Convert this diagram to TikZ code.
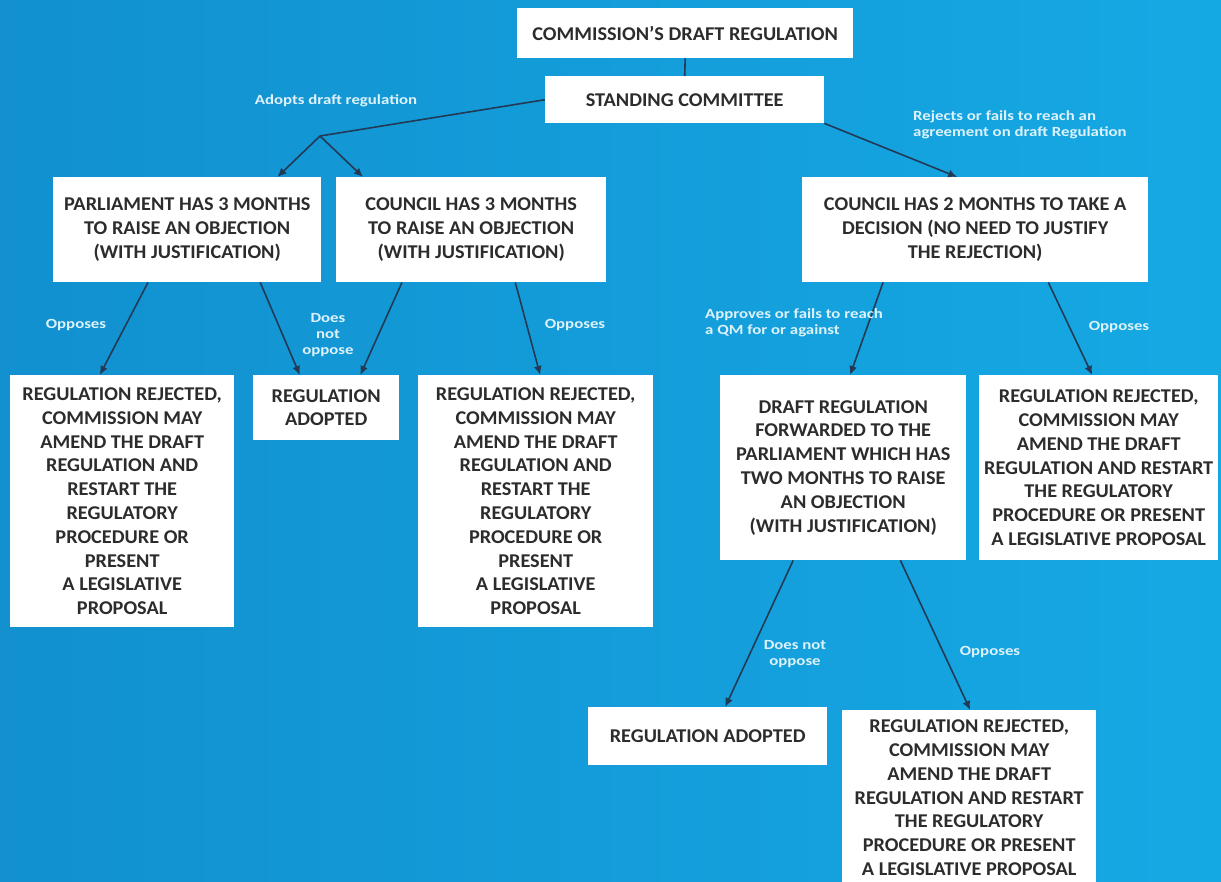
\documentclass[tikz,border=0pt]{standalone}
\usepackage{fontspec}
\setmainfont{Carlito}
\newfontfamily\boxfont[FakeStretch=1.04]{Carlito}
\newfontfamily\lblfont[FakeStretch=1.2]{Carlito}
\usetikzlibrary{arrows.meta,calc}
\definecolor{bgleft}{HTML}{1290CF}
\definecolor{bgright}{HTML}{15A9E4}
\definecolor{boxtext}{HTML}{2C2C2C}
\definecolor{linkcol}{HTML}{223A55}
\definecolor{lbltext}{HTML}{DDF2FB}
\tikzset{
  stepbox/.style={draw=none, fill=white, anchor=north west, inner sep=0pt,
    align=center, text=boxtext,
    font=\boxfont\bfseries\fontsize{19.5}{23.8}\selectfont},
  lbl/.style={text=lbltext, inner sep=0pt,
    font=\lblfont\bfseries\fontsize{14}{16}\selectfont},
  link/.style={draw=linkcol, line width=1.6pt},
  arr/.style={link, -{Latex[length=9pt,width=8pt]}}
}
\newcommand{\boxat}[6]{% name, x1, y1, x2, y2, text
  \node[stepbox, minimum width=#4pt-#2pt, minimum height=#5pt-#3pt] (#1) at (#2,#3) {#6};}
\begin{document}
\begin{tikzpicture}[x=1pt,y=-1pt]
\useasboundingbox (0,0) rectangle (1221,881);
\clip (0,0) rectangle (1221,881);
\shade[left color=bgleft, right color=bgright] (0,0) rectangle (1221,881);

% boxes
\boxat{draft}{517}{8}{853}{58}{COMMISSION’S DRAFT REGULATION}
\boxat{comm}{545}{76}{824}{123}{STANDING COMMITTEE}
\boxat{parl}{53}{177}{321}{282}{PARLIAMENT HAS 3 MONTHS\\TO RAISE AN OBJECTION\\(WITH JUSTIFICATION)}
\boxat{counA}{336}{177}{606}{282}{COUNCIL HAS 3 MONTHS\\TO RAISE AN OBJECTION\\(WITH JUSTIFICATION)}
\boxat{counB}{802}{177}{1148}{282}{COUNCIL HAS 2 MONTHS TO TAKE A\\DECISION (NO NEED TO JUSTIFY\\THE REJECTION)}
\boxat{rejA}{10}{375}{234}{627}{REGULATION REJECTED,\\COMMISSION MAY\\AMEND THE DRAFT\\REGULATION AND\\RESTART THE\\REGULATORY\\PROCEDURE OR\\PRESENT\\A LEGISLATIVE\\PROPOSAL}
\boxat{adoA}{253}{375}{399}{440}{REGULATION\\ADOPTED}
\boxat{rejB}{418}{375}{653}{627}{REGULATION REJECTED,\\COMMISSION MAY\\AMEND THE DRAFT\\REGULATION AND\\RESTART THE\\REGULATORY\\PROCEDURE OR\\PRESENT\\A LEGISLATIVE\\PROPOSAL}
\boxat{fwd}{720}{375}{966}{560}{DRAFT REGULATION\\FORWARDED TO THE\\PARLIAMENT WHICH HAS\\TWO MONTHS TO RAISE\\AN OBJECTION\\(WITH JUSTIFICATION)}
\boxat{rejC}{979}{375}{1218}{560}{REGULATION REJECTED,\\COMMISSION MAY\\AMEND THE DRAFT\\REGULATION AND RESTART\\THE REGULATORY\\PROCEDURE OR PRESENT\\A LEGISLATIVE PROPOSAL}
\boxat{adoB}{588}{707}{827}{765}{REGULATION ADOPTED}
\boxat{rejD}{842}{710}{1096}{885}{REGULATION REJECTED,\\COMMISSION MAY\\AMEND THE DRAFT\\REGULATION AND RESTART\\THE REGULATORY\\PROCEDURE OR PRESENT\\A LEGISLATIVE PROPOSAL}

% connectors
\coordinate (split) at (320,136);
\draw[link] (draft.south) -- (comm.north);
\draw[link] (comm.west) -- (split);
\draw[arr] (split) -- ($(parl.north west)!0.836!(parl.north east)$);
\draw[arr] (split) -- ($(counA.north west)!0.10!(counA.north east)$);
\draw[arr] (comm.south east) -- ($(counB.north west)!0.448!(counB.north east)$);
\draw[arr] ($(parl.south west)!0.354!(parl.south east)$) -- ($(rejA.north west)!0.40!(rejA.north east)$);
\draw[arr] ($(parl.south west)!0.772!(parl.south east)$) -- ($(adoA.north west)!0.32!(adoA.north east)$);
\draw[arr] ($(counA.south west)!0.244!(counA.south east)$) -- ($(adoA.north west)!0.733!(adoA.north east)$);
\draw[arr] ($(counA.south west)!0.663!(counA.south east)$) -- ($(rejB.north west)!0.519!(rejB.north east)$);
\draw[arr] ($(counB.south west)!0.234!(counB.south east)$) -- ($(fwd.north west)!0.528!(fwd.north east)$);
\draw[arr] ($(counB.south west)!0.711!(counB.south east)$) -- ($(rejC.north west)!0.473!(rejC.north east)$);
\draw[arr] ($(fwd.south west)!0.297!(fwd.south east)$) -- ($(adoB.north west)!0.573!(adoB.north east)$);
\draw[arr] ($(fwd.south west)!0.732!(fwd.south east)$) -- ($(rejD.north west)!0.504!(rejD.north east)$);

% connector labels
\node[lbl] (lAdopts) at (336,101) {Adopts draft regulation};
\node[lbl, anchor=west, align=left] (lRejects) at (913,125) {Rejects or fails to reach an\\agreement on draft Regulation};
\node[lbl] (lOppA) at (76,325) {Opposes};
\node[lbl, align=center] (lNotA) at (328,335) {Does\\not\\oppose};
\node[lbl] (lOppB) at (575,325) {Opposes};
\node[lbl, anchor=west, align=left] (lApproves) at (705,323) {Approves or fails to reach\\a QM for or against};
\node[lbl] (lOppC) at (1119,327) {Opposes};
\node[lbl, align=center] (lNotB) at (795,654) {Does not\\oppose};
\node[lbl] (lOppD) at (990,652) {Opposes};
\end{tikzpicture}
\end{document}
